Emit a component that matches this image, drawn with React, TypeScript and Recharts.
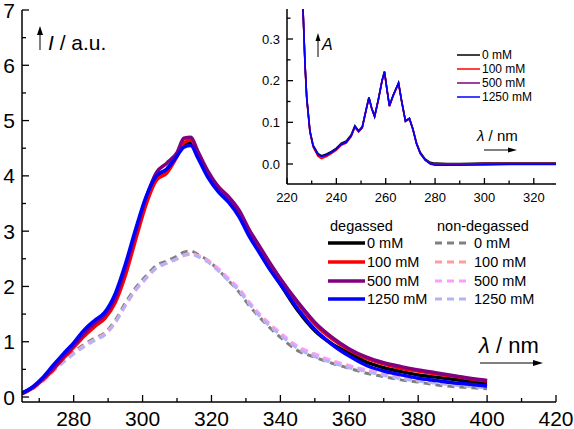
import { Customized, Legend, Line, LineChart, XAxis, YAxis } from "recharts"

// main spectra (emission), wavelength in nm
const wl = [
  265, 268, 271, 274, 277, 280, 283, 286, 289, 292, 295, 298, 301, 304, 307, 310, 312, 314, 316, 319,
  322, 325, 328, 331, 334, 337, 340, 345, 350, 355, 360, 365, 370, 375, 380, 385, 390, 395, 400,
]
const deg0 = [
  0.07, 0.17, 0.33, 0.52, 0.73, 0.94, 1.16, 1.34, 1.5, 1.8, 2.33, 2.98, 3.58, 3.98, 4.12, 4.38, 4.58, 4.6, 4.38, 4.0,
  3.73, 3.55, 3.3, 2.95, 2.62, 2.32, 2.04, 1.57, 1.2, 0.96, 0.79, 0.63, 0.53, 0.46, 0.4, 0.36, 0.32, 0.28, 0.25,
]
const deg100 = [
  0.06, 0.16, 0.31, 0.49, 0.7, 0.9, 1.1, 1.27, 1.42, 1.7, 2.2, 2.85, 3.48, 3.92, 4.05, 4.35, 4.6, 4.65, 4.42, 4.05,
  3.8, 3.6, 3.35, 3.0, 2.7, 2.4, 2.13, 1.7, 1.32, 1.05, 0.85, 0.7, 0.6, 0.52, 0.47, 0.42, 0.38, 0.33, 0.29,
]
const deg500 = [
  0.07, 0.17, 0.33, 0.52, 0.73, 0.93, 1.15, 1.33, 1.48, 1.78, 2.33, 2.98, 3.6, 4.06, 4.23, 4.42, 4.68, 4.7, 4.45, 4.08,
  3.8, 3.62, 3.38, 3.02, 2.72, 2.42, 2.14, 1.72, 1.35, 1.08, 0.87, 0.72, 0.62, 0.55, 0.49, 0.44, 0.39, 0.34, 0.3,
]
const deg1250 = [
  0.07, 0.18, 0.35, 0.57, 0.78, 0.98, 1.21, 1.38, 1.53, 1.86, 2.4, 3.04, 3.62, 4.0, 4.12, 4.36, 4.52, 4.55, 4.33, 3.97,
  3.71, 3.52, 3.26, 2.9, 2.6, 2.3, 2.04, 1.6, 1.22, 0.95, 0.74, 0.57, 0.47, 0.4, 0.34, 0.3, 0.26, 0.23, 0.2,
]
const nd0 = [
  0.06, 0.16, 0.31, 0.5, 0.67, 0.82, 0.95, 1.06, 1.16, 1.38, 1.7, 1.98, 2.19, 2.38, 2.46, 2.55, 2.62, 2.64, 2.58, 2.47,
  2.3, 2.1, 1.9, 1.65, 1.44, 1.25, 1.08, 0.84, 0.72, 0.61, 0.52, 0.43, 0.37, 0.31, 0.27, 0.22, 0.19, 0.17, 0.15,
]
const nd100 = [
  0.06, 0.15, 0.29, 0.47, 0.64, 0.79, 0.93, 1.04, 1.14, 1.35, 1.66, 1.94, 2.15, 2.34, 2.42, 2.5, 2.57, 2.6, 2.56, 2.47,
  2.32, 2.13, 1.95, 1.7, 1.48, 1.3, 1.14, 0.9, 0.76, 0.65, 0.56, 0.48, 0.41, 0.35, 0.3, 0.26, 0.23, 0.2, 0.18,
]
const nd500 = [
  0.05, 0.14, 0.28, 0.46, 0.63, 0.78, 0.92, 1.03, 1.13, 1.34, 1.65, 1.93, 2.14, 2.33, 2.42, 2.5, 2.56, 2.59, 2.55, 2.46,
  2.32, 2.14, 1.96, 1.72, 1.5, 1.32, 1.16, 0.92, 0.78, 0.66, 0.57, 0.49, 0.42, 0.36, 0.31, 0.27, 0.24, 0.21, 0.18,
]
const nd1250 = [
  0.06, 0.15, 0.3, 0.47, 0.63, 0.78, 0.91, 1.02, 1.12, 1.34, 1.66, 1.94, 2.15, 2.34, 2.42, 2.5, 2.56, 2.58, 2.54, 2.44,
  2.28, 2.1, 1.92, 1.68, 1.46, 1.28, 1.12, 0.88, 0.73, 0.62, 0.53, 0.46, 0.39, 0.33, 0.29, 0.25, 0.22, 0.19, 0.17,
]

// inset spectra (absorbance)
const insetWl = [
  225, 226.5, 227.3, 228, 229.3, 230.6, 232.6, 234, 236, 238, 240, 242, 244, 246, 247.5, 249, 250.5, 252, 253.2, 254.3,
  255.5, 257, 258.5, 259.5, 260.5, 261.5, 263, 265.2, 266.5, 268, 269.6, 271, 272.5, 274, 276, 278, 280, 285, 290, 300,
  310, 320, 330,
]
const abs0 = [
  0.8, 0.37, 0.24, 0.16, 0.08, 0.045, 0.025, 0.02, 0.024, 0.03, 0.038, 0.05, 0.055, 0.07, 0.092, 0.08, 0.09, 0.13, 0.16, 0.135,
  0.115, 0.155, 0.2, 0.222, 0.18, 0.14, 0.165, 0.195, 0.15, 0.104, 0.11, 0.085, 0.05, 0.028, 0.012, 0.004, 0.002, 0.001, 0.001, 0.002,
  0.002, 0.002, 0.002,
]
const abs100 = [
  0.8, 0.37, 0.235, 0.155, 0.075, 0.04, 0.018, 0.013, 0.018, 0.025, 0.033, 0.045, 0.05, 0.066, 0.088, 0.077, 0.087, 0.127, 0.158, 0.133,
  0.113, 0.153, 0.198, 0.22, 0.178, 0.138, 0.163, 0.193, 0.148, 0.102, 0.108, 0.083, 0.048, 0.026, 0.01, 0.002, 0, 0, 0, 0.001,
  0.001, 0.001, 0.001,
]
const abs500 = [
  0.8, 0.37, 0.24, 0.158, 0.078, 0.043, 0.022, 0.017, 0.021, 0.028, 0.036, 0.048, 0.053, 0.068, 0.09, 0.079, 0.088, 0.128, 0.159, 0.134,
  0.114, 0.154, 0.199, 0.221, 0.179, 0.139, 0.164, 0.194, 0.149, 0.103, 0.109, 0.084, 0.049, 0.026, 0.01, 0.002, 0, 0, 0, 0.001,
  0.001, 0.001, 0.001,
]
const abs1250 = [
  0.8, 0.37, 0.24, 0.158, 0.078, 0.043, 0.022, 0.018, 0.022, 0.028, 0.036, 0.047, 0.052, 0.067, 0.09, 0.078, 0.088, 0.128, 0.16, 0.134,
  0.114, 0.154, 0.2, 0.222, 0.179, 0.14, 0.164, 0.195, 0.149, 0.103, 0.109, 0.083, 0.048, 0.025, 0.009, 0, -0.003, -0.003, -0.003, -0.002,
  -0.001, -0.001, -0.001,
]

const mainXTicks = [270, 280, 290, 300, 310, 320, 330, 340, 350, 360, 370, 380, 390, 400, 410, 420]
const mainYTicks = [0, 0.5, 1, 1.5, 2, 2.5, 3, 3.5, 4, 4.5, 5, 5.5, 6, 6.5, 7]
const insetXTicks = [220, 230, 240, 250, 260, 270, 280, 290, 300, 310, 320]
const insetYTicks = [0, 0.05, 0.1, 0.15, 0.2, 0.25, 0.3, 0.35]
const concLabels = ["0 mM", "100 mM", "500 mM", "1250 mM"]

const degKeys = ["d0", "d100", "d500", "d1250"]
const ndKeys = ["n0", "n100", "n500", "n1250"]
const absKeys = ["a0", "a100", "a500", "a1250"]

const mainData = wl.map((x, i) => ({
  x,
  d0: deg0[i],
  d100: deg100[i],
  d500: deg500[i],
  d1250: deg1250[i],
  n0: nd0[i],
  n100: nd100[i],
  n500: nd500[i],
  n1250: nd1250[i],
}))

const insetData = insetWl.map((x, i) => ({ x, a0: abs0[i], a100: abs100[i], a500: abs500[i], a1250: abs1250[i] }))

const FONT = "'Liberation Sans', Arial, sans-serif"

const solidColors = ["#000000", "#ff0000", "#800080", "#0000ff"]
const dashColors = ["#808080", "#ff9c9c", "#ff9cff", "#b4b4f4"]

// ticks point inward, so the tick line is drawn together with the label
const makeXTick = (majorEvery: number, big: number, small: number, fontSize: number, dy: number, dir: number, label: boolean) =>
  (props: any) => {
    const { x, y, payload } = props
    const major = Math.abs(Math.round(payload.value) % majorEvery) === 0
    return (
      <g>
        <line x1={x} x2={x} y1={y} y2={y - dir * (major ? big : small)} stroke="#000" strokeWidth={1.3} />
        {label && major && (
          <text x={x} y={y + dy} textAnchor="middle" fontSize={fontSize} fontFamily={FONT} fill="#000">
            {payload.value}
          </text>
        )}
      </g>
    )
  }

const makeYTick = (isMajor: (v: number) => boolean, fmt: (v: number) => string, big: number, small: number, fontSize: number, dir: number, label: boolean) =>
  (props: any) => {
    const { x, y, payload } = props
    const major = isMajor(payload.value)
    return (
      <g>
        <line x1={x} x2={x + dir * (major ? big : small)} y1={y} y2={y} stroke="#000" strokeWidth={1.3} />
        {label && major && (
          <text x={x - 7} y={y + fontSize * 0.36} textAnchor="end" fontSize={fontSize} fontFamily={FONT} fill="#000">
            {fmt(payload.value)}
          </text>
        )}
      </g>
    )
  }

// keep legend rows in series order, whatever order the payload comes in
const pick = (items: any[], keys: string[]) =>
  keys.map((k) => items.find((p: any) => p.dataKey === k)).filter(Boolean)

const MainLegend = (props: any) => {
  const items = props.payload || []
  const deg = pick(items, degKeys)
  const nd = pick(items, ndKeys)
  const rows = [38, 57, 76, 94]
  return (
    <svg width={240} height={104} style={{ display: "block" }}>
      <text x={12} y={26} fontSize={14.5} fontFamily={FONT}>degassed</text>
      <text x={119} y={26} fontSize={14.5} fontFamily={FONT}>non-degassed</text>
      {deg.map((p: any, i: number) => (
        <g key={p.dataKey}>
          <line x1={10} x2={47} y1={rows[i]} y2={rows[i]} stroke={p.color} strokeWidth={3.5} />
          <text x={49} y={rows[i] + 5} fontSize={14.5} fontFamily={FONT}>{p.value}</text>
        </g>
      ))}
      {nd.map((p: any, i: number) => (
        <g key={p.dataKey}>
          <line x1={117} x2={150} y1={rows[i]} y2={rows[i]} stroke={p.color} strokeWidth={3} strokeDasharray="7 5" />
          <text x={156} y={rows[i] + 5} fontSize={14.5} fontFamily={FONT}>{p.value}</text>
        </g>
      ))}
    </svg>
  )
}

const InsetLegend = (props: any) => {
  const items = pick(props.payload || [], absKeys)
  return (
    <svg width={100} height={64} style={{ display: "block" }}>
      {items.map((p: any, i: number) => (
        <g key={p.dataKey}>
          <line x1={7} x2={30} y1={10 + i * 14} y2={10 + i * 14} stroke={p.color} strokeWidth={1.5} />
          <text x={32} y={14 + i * 14} fontSize={12} fontFamily={FONT}>{p.value}</text>
        </g>
      ))}
    </svg>
  )
}

const MainAnnotations = () => (
  <g fontFamily={FONT}>
    <line x1={40} x2={40} y1={50} y2={32} stroke="#000" strokeWidth={1} />
    <polygon points="40,26 37,35 43,35" fill="#000" />
    <text x={48} y={50} fontSize={21}>
      <tspan fontStyle="italic">I</tspan> / a.u.
    </text>
    <text x={479} y={353} fontSize={22}>
      <tspan fontStyle="italic">λ</tspan> / nm
    </text>
    <line x1={480} x2={535} y1={363} y2={363} stroke="#000" strokeWidth={1} />
    <polygon points="543,363 533,360 533,366" fill="#000" />
  </g>
)

const InsetAnnotations = () => (
  <g fontFamily={FONT}>
    <line x1={78} x2={78} y1={57} y2={38} stroke="#000" strokeWidth={1} />
    <polygon points="78,33 75.5,41 80.5,41" fill="#000" />
    <text x={82} y={50} fontSize={16} fontStyle="italic">A</text>
    <text x={237} y={141} fontSize={15}>
      <tspan fontStyle="italic">λ</tspan> / nm
    </text>
    <line x1={244} x2={270} y1={150} y2={150} stroke="#000" strokeWidth={1} />
    <polygon points="277,150 268,147.5 268,152.5" fill="#000" />
  </g>
)

export default function App() {
  return (
    <div style={{ position: "absolute", left: 0, top: 0, width: 574, height: 429, background: "#fff" }}>
      <div style={{ position: "absolute", left: 0, top: 0 }}>
        <LineChart width={574} height={429} data={mainData} margin={{ top: 10, right: 18, bottom: 0, left: 0 }}>
          <XAxis
            dataKey="x"
            type="number"
            domain={[265, 420]}
            allowDataOverflow
            ticks={mainXTicks}
            interval={0}
            height={27}
            tickSize={0}
            tickMargin={0}
            tickLine={false}
            axisLine={{ stroke: "#000", strokeWidth: 1.5 }}
            tick={makeXTick(20, 7, 4, 21, 24, 1, true)}
          />
          <XAxis xAxisId="top" orientation="top" type="number" domain={[265, 420]} height={0} tick={false} tickLine={false} axisLine={{ stroke: "#000", strokeWidth: 1.5 }} />
          <YAxis
            type="number"
            domain={[-0.09, 7]}
            allowDataOverflow
            ticks={mainYTicks}
            interval={0}
            width={22}
            tickSize={0}
            tickMargin={0}
            tickLine={false}
            axisLine={{ stroke: "#000", strokeWidth: 1.5 }}
            tick={makeYTick((v) => Number.isInteger(v), (v) => String(v), 7, 4, 21, 1, true)}
          />
          <YAxis yAxisId="right" orientation="right" width={0} tick={false} tickLine={false} axisLine={{ stroke: "#000", strokeWidth: 1.5 }} />
          {ndKeys.map((k, i) => (
            <Line key={k} dataKey={k} name={concLabels[i]} type="monotone" stroke={dashColors[i]} strokeWidth={3} strokeDasharray="7 5" dot={false} isAnimationActive={false} />
          ))}
          {degKeys.map((k, i) => (
            <Line key={k} dataKey={k} name={concLabels[i]} type="monotone" stroke={solidColors[i]} strokeWidth={3.5} dot={false} isAnimationActive={false} />
          ))}
          <Legend
            layout="vertical"
            align="center"
            verticalAlign="middle"
            wrapperStyle={{ left: 318, top: 205, width: 240, height: 104 }}
            content={MainLegend}
          />
          <Customized component={MainAnnotations} />
        </LineChart>
      </div>
      <div style={{ position: "absolute", left: 240, top: 0 }}>
        <LineChart width={334} height={215} data={insetData} margin={{ top: 9, right: 18, bottom: 0, left: 0 }}>
          <XAxis
            dataKey="x"
            type="number"
            domain={[220, 329]}
            allowDataOverflow
            ticks={insetXTicks}
            interval={0}
            height={31}
            tickSize={0}
            tickMargin={0}
            tickLine={false}
            axisLine={{ stroke: "#000", strokeWidth: 1.5 }}
            tick={makeXTick(20, 6, 3.5, 13, 18, 1, true)}
          />
          <XAxis
            xAxisId="top"
            orientation="top"
            dataKey="x"
            type="number"
            domain={[220, 329]}
            allowDataOverflow
            ticks={insetXTicks}
            interval={0}
            height={0}
            tickSize={0}
            tickMargin={0}
            tickLine={false}
            axisLine={{ stroke: "#000", strokeWidth: 1.5 }}
            tick={makeXTick(20, 6, 3.5, 13, 18, -1, false)}
          />
          <YAxis
            type="number"
            domain={[-0.048, 0.372]}
            allowDataOverflow
            ticks={insetYTicks}
            interval={0}
            width={47}
            tickSize={0}
            tickMargin={0}
            tickLine={false}
            axisLine={{ stroke: "#000", strokeWidth: 1.5 }}
            tick={makeYTick((v) => Math.round(v * 100) % 10 === 0, (v) => v.toFixed(1), 6, 3.5, 13, 1, true)}
          />
          <YAxis
            yAxisId="right"
            orientation="right"
            type="number"
            domain={[-0.048, 0.372]}
            allowDataOverflow
            ticks={insetYTicks}
            interval={0}
            width={0}
            tickSize={0}
            tickMargin={0}
            tickLine={false}
            axisLine={{ stroke: "#000", strokeWidth: 1.5 }}
            tick={makeYTick((v) => Math.round(v * 100) % 10 === 0, (v) => v.toFixed(1), 6, 3.5, 13, -1, false)}
          />
          {absKeys.map((k, i) => (
            <Line key={k} dataKey={k} name={concLabels[i]} type="linear" stroke={solidColors[i]} strokeWidth={1.6} dot={false} isAnimationActive={false} />
          ))}
          <Legend
            layout="vertical"
            align="center"
            verticalAlign="middle"
            wrapperStyle={{ left: 210, top: 45, width: 100, height: 64 }}
            content={InsetLegend}
          />
          <Customized component={InsetAnnotations} />
        </LineChart>
      </div>
    </div>
  )
}
